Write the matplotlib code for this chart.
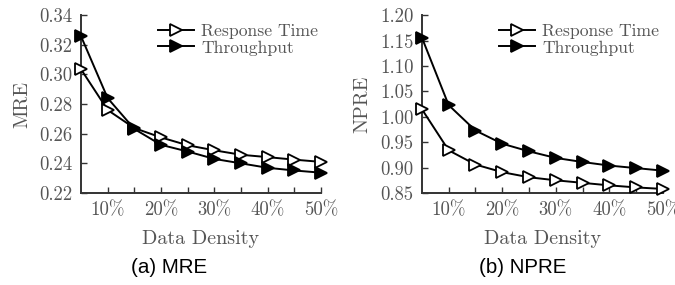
import matplotlib
matplotlib.use("Agg")
import matplotlib.pyplot as plt
from matplotlib.ticker import FixedLocator

density = [5, 10, 15, 20, 25, 30, 35, 40, 45, 50]
xtick_vals = [10, 20, 30, 40, 50]
xtick_labels = ["10%", "20%", "30%", "40%", "50%"]

mre_rt = [0.3035, 0.276, 0.2638, 0.2575, 0.2522, 0.2488, 0.2458, 0.2442, 0.2425, 0.2410]
mre_tp = [0.3258, 0.284, 0.2632, 0.2525, 0.2480, 0.2430, 0.2400, 0.2370, 0.2352, 0.2337]
npre_rt = [1.015, 0.934, 0.906, 0.891, 0.881, 0.875, 0.870, 0.865, 0.861, 0.858]
npre_tp = [1.156, 1.023, 0.973, 0.947, 0.932, 0.919, 0.911, 0.904, 0.899, 0.894]

mre_yticks = [0.22, 0.24, 0.26, 0.28, 0.30, 0.32, 0.34]
npre_yticks = [0.85, 0.90, 0.95, 1.00, 1.05, 1.10, 1.15, 1.20]

plt.rcParams['font.family'] = ['cmr10', 'DejaVu Serif']
plt.rcParams['axes.formatter.use_mathtext'] = True

fig = plt.figure(figsize=(6.75, 2.85), dpi=100)
ax1 = fig.add_axes([0.12, 0.3228, 0.3556, 0.624])
ax2 = fig.add_axes([0.625, 0.3228, 0.357, 0.624])

txt_col = '#555555'
spine_col = '#333333'

def style(ax, rt, tp, yticks, ylabel, fmt):
    ax.plot(density, rt, color='black', lw=1.4, marker='>', ms=8.5,
            mfc='white', mec='black', mew=1.3, label='Response Time', clip_on=False, zorder=3)
    ax.plot(density, tp, color='black', lw=1.4, marker='>', ms=8.5,
            mfc='black', mec='black', mew=1.3, label='Throughput', clip_on=False, zorder=3)
    ax.set_xlim(5, 50)
    ax.set_ylim(yticks[0], yticks[-1])
    ax.set_yticks(yticks)
    ax.set_yticklabels([fmt % v for v in yticks])
    ax.set_xticks(xtick_vals)
    ax.set_xticklabels(xtick_labels)
    ax.xaxis.set_minor_locator(FixedLocator([15, 25, 35, 45]))
    ax.tick_params(axis='both', which='both', direction='in', colors=spine_col,
                   labelcolor=txt_col, labelsize=13.5, width=1.0)
    ax.tick_params(axis='both', which='major', length=4)
    ax.tick_params(axis='x', which='minor', length=4)
    ax.tick_params(axis='x', pad=6)
    ax.tick_params(axis='y', pad=6)
    for s in ['top', 'right']:
        ax.spines[s].set_visible(False)
    for s in ['left', 'bottom']:
        ax.spines[s].set_color(spine_col)
        ax.spines[s].set_linewidth(1.4)
    ax.set_xlabel('Data Density', fontsize=14.5, color=txt_col, labelpad=8)
    ax.set_ylabel(ylabel, fontsize=14.5, color=txt_col, labelpad=6)
    leg = ax.legend(loc='upper left', frameon=False, fontsize=12.7, handlelength=2.05,
                    labelspacing=0.05, handletextpad=0.4, borderaxespad=0.0, borderpad=0.0,
                    bbox_to_anchor=(0.32, 0.95))
    for t in leg.get_texts():
        t.set_color(txt_col)

style(ax1, mre_rt, mre_tp, mre_yticks, 'MRE', '%.2f')
style(ax2, npre_rt, npre_tp, npre_yticks, 'NPRE', '%.2f')

fig.text(0.250, 0.063, '(a) MRE', ha='center', va='center', fontsize=14.8,
         family=['Liberation Sans', 'DejaVu Sans'], color='black')
fig.text(0.775, 0.063, '(b) NPRE', ha='center', va='center', fontsize=14.8,
         family=['Liberation Sans', 'DejaVu Sans'], color='black')

fig.savefig('out.png', dpi=100)
